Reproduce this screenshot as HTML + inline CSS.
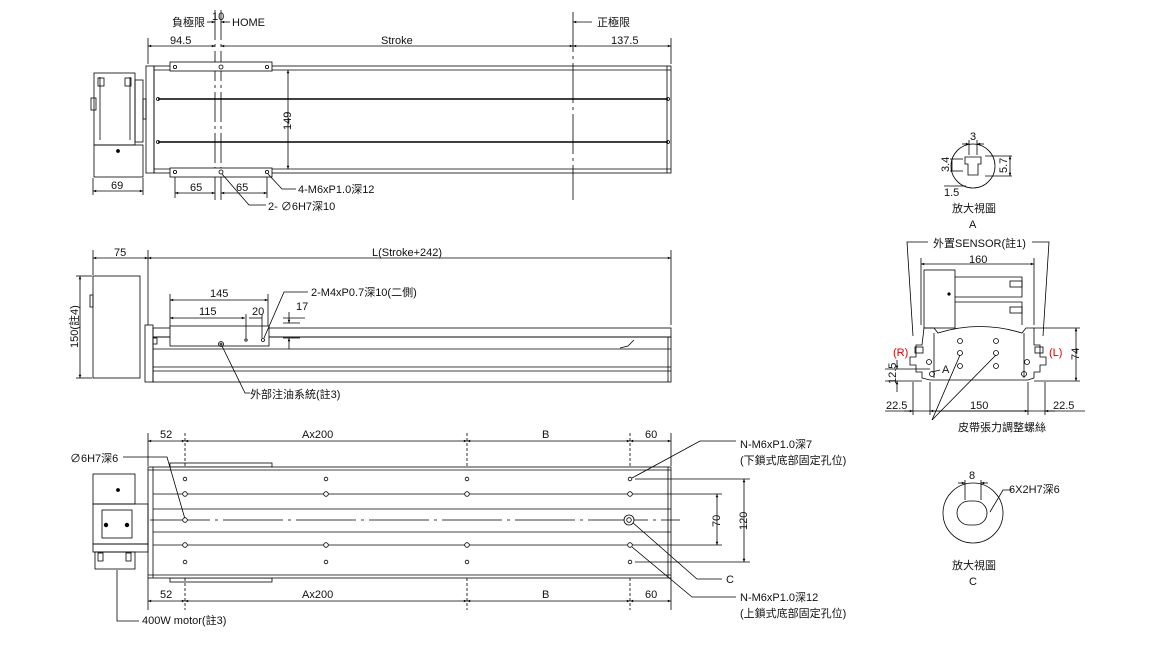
<!DOCTYPE html>
<html><head><meta charset="utf-8"><style>
html,body{margin:0;padding:0;background:#fff}
svg{display:block}
text{font-family:"Liberation Sans","Noto Sans CJK TC",sans-serif;font-size:11px;fill:#111}
</style></head><body>
<svg width="1156" height="645" viewBox="0 0 1156 645" xmlns="http://www.w3.org/2000/svg">
<defs>
<marker id="a" viewBox="0 0 10 10" refX="10" refY="5" markerWidth="6" markerHeight="4" orient="auto-start-reverse"><path d="M0,1 L10,5 L0,9z" fill="#000"/></marker>
</defs>
<g stroke="#000" stroke-width="0.8" fill="none">
<!-- ========== TOP VIEW ========== -->
<line x1="215" y1="10" x2="215" y2="200" stroke-dasharray="30 4 3 4"/>
<line x1="221" y1="10" x2="221" y2="200" stroke-dasharray="30 4 3 4"/>
<line x1="573" y1="12" x2="573" y2="200" stroke-dasharray="40 4 3 4"/>
<line x1="207" y1="22" x2="215" y2="22" marker-end="url(#a)"/>
<line x1="230" y1="22" x2="221" y2="22" marker-end="url(#a)"/>
<line x1="592" y1="22" x2="573" y2="22" marker-end="url(#a)"/>
<line x1="148" y1="38" x2="148" y2="64"/><line x1="671" y1="38" x2="671" y2="64"/>
<line x1="148" y1="46" x2="215" y2="46" marker-start="url(#a)" marker-end="url(#a)"/>
<line x1="221" y1="46" x2="573" y2="46" marker-start="url(#a)" marker-end="url(#a)"/>
<line x1="573" y1="46" x2="671" y2="46" marker-start="url(#a)" marker-end="url(#a)"/>
<!-- motor -->
<rect x="94" y="73" width="41" height="72"/>
<rect x="94" y="145" width="49" height="32"/>
<line x1="100" y1="77" x2="100" y2="140"/><line x1="130" y1="77" x2="130" y2="140"/>
<rect x="98" y="78" width="6" height="8"/><rect x="125" y="78" width="6" height="8"/>
<rect x="91" y="98" width="5" height="12"/>
<rect x="135" y="80" width="8" height="62"/>
<circle cx="118" cy="151" r="1.5" fill="#000"/>
<rect x="143" y="99" width="3" height="20"/>
<!-- body -->
<rect x="146" y="66" width="8" height="107"/>
<rect x="154" y="66" width="517" height="107"/>
<line x1="154" y1="70" x2="671" y2="70"/><line x1="154" y1="169" x2="671" y2="169"/>
<line x1="667" y1="66" x2="667" y2="173"/>
<line x1="158" y1="99" x2="668" y2="99" stroke-width="1.6"/>
<line x1="158" y1="142" x2="668" y2="142" stroke-width="1.6"/>
<circle cx="158" cy="99" r="1.5"/><circle cx="668" cy="99" r="1.5"/>
<circle cx="158" cy="142" r="1.5"/><circle cx="668" cy="142" r="1.5"/>
<rect x="170" y="62" width="102" height="9" fill="#fff"/>
<rect x="170" y="168" width="102" height="9" fill="#fff"/>
<circle cx="175" cy="67" r="1.6"/><circle cx="221" cy="67" r="2"/><circle cx="267" cy="67" r="1.6"/>
<circle cx="175" cy="172" r="1.6"/><circle cx="221" cy="172" r="2"/><circle cx="267" cy="172" r="1.6"/>
<line x1="288" y1="70" x2="288" y2="169" marker-start="url(#a)" marker-end="url(#a)"/>
<line x1="93" y1="178" x2="93" y2="195"/><line x1="143" y1="178" x2="143" y2="195"/>
<line x1="93" y1="191" x2="143" y2="191" marker-start="url(#a)" marker-end="url(#a)"/>
<line x1="175" y1="177" x2="175" y2="198"/><line x1="267" y1="177" x2="267" y2="198"/>
<line x1="175" y1="193" x2="215" y2="193" marker-start="url(#a)" marker-end="url(#a)"/>
<line x1="221" y1="193" x2="267" y2="193" marker-start="url(#a)" marker-end="url(#a)"/>
<polyline points="268,174 282,189 296,189"/>
<polyline points="222,174 249,205 266,205"/>
<!-- ========== SIDE VIEW ========== -->
<line x1="93" y1="250" x2="93" y2="275"/><line x1="148" y1="250" x2="148" y2="325"/><line x1="671" y1="250" x2="671" y2="325"/>
<line x1="93" y1="258" x2="148" y2="258" marker-start="url(#a)" marker-end="url(#a)"/>
<line x1="148" y1="258" x2="671" y2="258" marker-start="url(#a)" marker-end="url(#a)"/>
<line x1="76" y1="276" x2="92" y2="276"/><line x1="76" y1="378" x2="92" y2="378"/>
<line x1="80" y1="276" x2="80" y2="378" marker-start="url(#a)" marker-end="url(#a)"/>
<rect x="93" y="276" width="47" height="102"/>
<rect x="90" y="295" width="3" height="12"/>
<rect x="145" y="325" width="8" height="57"/>
<rect x="153" y="328" width="518" height="9"/>
<rect x="153" y="337" width="518" height="45"/>
<line x1="153" y1="349" x2="671" y2="349"/>
<line x1="153" y1="367" x2="671" y2="367"/><line x1="153" y1="371" x2="671" y2="371"/>
<line x1="668" y1="337" x2="668" y2="382"/>
<rect x="170" y="326" width="99" height="20" fill="#fff"/>
<rect x="153" y="338" width="4" height="6"/>
<polyline points="620,348 628,346 632,342 634,340"/>
<circle cx="246" cy="340" r="1.2"/><circle cx="263" cy="340" r="1.5"/>
<circle cx="221" cy="344" r="2.5"/><circle cx="221" cy="344" r="1"/>
<line x1="170" y1="294" x2="170" y2="326"/><line x1="268" y1="294" x2="268" y2="326"/>
<line x1="170" y1="300" x2="268" y2="300" marker-start="url(#a)" marker-end="url(#a)"/>
<line x1="170" y1="318" x2="245" y2="318" marker-start="url(#a)" marker-end="url(#a)"/>
<line x1="246" y1="314" x2="246" y2="338"/><line x1="262" y1="314" x2="262" y2="338"/>
<line x1="249" y1="318" x2="262" y2="318"/>
<line x1="283" y1="318" x2="305" y2="318"/>
<line x1="283" y1="323" x2="300" y2="323"/><line x1="283" y1="338" x2="300" y2="338"/>
<line x1="289" y1="312" x2="289" y2="323" marker-end="url(#a)"/>
<line x1="289" y1="349" x2="289" y2="338" marker-end="url(#a)"/>
<polyline points="264,338 284,292 308,292"/>
<polyline points="222,346 245,393 250,393"/>
<!-- ========== BOTTOM VIEW ========== -->
<line x1="148" y1="433" x2="148" y2="466"/><line x1="671" y1="433" x2="671" y2="466"/>
<line x1="185" y1="433" x2="185" y2="610" stroke-dasharray="3 2"/>
<line x1="467" y1="433" x2="467" y2="610" stroke-dasharray="3 2"/>
<line x1="630" y1="433" x2="630" y2="610" stroke-dasharray="3 2"/>
<line x1="148" y1="578" x2="148" y2="610"/><line x1="671" y1="578" x2="671" y2="610"/>
<line x1="148" y1="441" x2="185" y2="441" marker-start="url(#a)" marker-end="url(#a)"/>
<line x1="185" y1="441" x2="467" y2="441" marker-start="url(#a)" marker-end="url(#a)"/>
<line x1="467" y1="441" x2="630" y2="441" marker-start="url(#a)" marker-end="url(#a)"/>
<line x1="630" y1="441" x2="671" y2="441" marker-start="url(#a)" marker-end="url(#a)"/>
<line x1="148" y1="601" x2="185" y2="601" marker-start="url(#a)" marker-end="url(#a)"/>
<line x1="185" y1="601" x2="467" y2="601" marker-start="url(#a)" marker-end="url(#a)"/>
<line x1="467" y1="601" x2="630" y2="601" marker-start="url(#a)" marker-end="url(#a)"/>
<line x1="630" y1="601" x2="671" y2="601" marker-start="url(#a)" marker-end="url(#a)"/>
<rect x="170" y="463" width="102" height="4"/><rect x="170" y="578" width="102" height="4"/>
<rect x="148" y="467" width="523" height="111" fill="#fff"/>
<line x1="148" y1="470" x2="671" y2="470"/><line x1="148" y1="575" x2="671" y2="575"/>
<line x1="668" y1="467" x2="668" y2="578"/>
<line x1="153" y1="467" x2="153" y2="578"/>
<line x1="153" y1="494" x2="671" y2="494"/><line x1="153" y1="545" x2="671" y2="545"/>
<line x1="153" y1="509" x2="671" y2="509"/><line x1="153" y1="532" x2="671" y2="532"/>
<line x1="150" y1="520" x2="680" y2="520" stroke-dasharray="60 5 3 5"/>
<!-- motor bottom -->
<rect x="93" y="474" width="42" height="30"/>
<rect x="93" y="504" width="55" height="40"/>
<rect x="102" y="510" width="30" height="28"/>
<rect x="93" y="544" width="55" height="8"/>
<rect x="95" y="552" width="40" height="17"/>
<circle cx="118" cy="490" r="1.5" fill="#000"/>
<circle cx="106" cy="525" r="1.8" fill="#000"/><circle cx="127" cy="525" r="1.8" fill="#000"/>
<rect x="98" y="553" width="5" height="8"/><rect x="126" y="553" width="5" height="8"/>
<line x1="744" y1="479" x2="744" y2="562" marker-start="url(#a)" marker-end="url(#a)"/>
<line x1="717" y1="494" x2="717" y2="545" marker-start="url(#a)" marker-end="url(#a)"/>
<line x1="635" y1="479" x2="750" y2="479"/><line x1="671" y1="494" x2="722" y2="494"/>
<line x1="671" y1="545" x2="722" y2="545"/><line x1="635" y1="562" x2="750" y2="562"/>
<polyline points="632,478 700,441 736,441"/>
<polyline points="632,522 697,579 722,579"/>
<polyline points="632,547 692,597 736,597"/>
<polyline points="123,457 167,457 185,519"/>
<polyline points="117,570 117,621 139,621"/>
<!-- ========== DETAIL A ========== -->
<circle cx="973" cy="166" r="22"/>
<path d="M965,157 h16 v7 h-3 v11 h-10 v-11 h-3z"/>
<line x1="969" y1="140" x2="969" y2="155"/><line x1="977" y1="140" x2="977" y2="155"/>
<line x1="962" y1="144" x2="969" y2="144" marker-end="url(#a)"/><line x1="984" y1="144" x2="977" y2="144" marker-end="url(#a)"/>
<line x1="950" y1="159" x2="963" y2="159"/><line x1="950" y1="171" x2="963" y2="171"/>
<line x1="952" y1="159" x2="952" y2="171"/>
<line x1="985" y1="156" x2="1012" y2="156"/><line x1="985" y1="176" x2="1012" y2="176"/>
<line x1="1010" y1="156" x2="1010" y2="176" marker-start="url(#a)" marker-end="url(#a)"/>
<line x1="944" y1="186" x2="966" y2="186"/>
<!-- ========== END VIEW ========== -->
<polyline points="928,242 907,242 913,336"/>
<polyline points="1032,242 1049,242 1043,336"/>
<line x1="921" y1="258" x2="921" y2="325"/><line x1="1034" y1="258" x2="1034" y2="325"/>
<line x1="921" y1="264" x2="1034" y2="264" marker-start="url(#a)" marker-end="url(#a)"/>
<rect x="924" y="270" width="31" height="58"/>
<polyline points="955,277 1022,277 1022,297 955,297"/>
<polyline points="955,302 1022,302 1022,325"/>
<rect x="1010" y="281" width="12" height="6"/><rect x="1010" y="307" width="12" height="6"/>
<circle cx="949" cy="294" r="1.2" fill="#000"/>
<path d="M924,328 L934,328 L938,333 Q980,320 1022,333 L1026,328 L1034,328 L1034,345 L1040,345 L1040,357 L1046,357 L1046,365 L1040,365 L1040,372 L1034,372 L1034,378 L1028,380 L930,380 L922,378 L922,372 L916,372 L916,365 L910,365 L910,357 L916,357 L916,345 L922,345 Z"/>
<line x1="934" y1="333" x2="934" y2="378"/><line x1="1024" y1="333" x2="1024" y2="378"/>
<rect x="915" y="347" width="8" height="6"/><rect x="1035" y="347" width="8" height="6"/>
<circle cx="960" cy="341" r="2.5"/><circle cx="996" cy="341" r="2.5"/>
<circle cx="960" cy="353" r="2.5"/><circle cx="996" cy="353" r="2.5"/>
<circle cx="960" cy="366" r="2.5"/><circle cx="996" cy="366" r="2.5"/>
<circle cx="929" cy="362" r="2.5"/><circle cx="1027" cy="362" r="2.5"/>
<circle cx="932" cy="374" r="2.5"/><circle cx="1024" cy="374" r="2.5"/>
<line x1="1034" y1="328" x2="1080" y2="328"/><line x1="1034" y1="381" x2="1080" y2="381"/>
<line x1="1076" y1="328" x2="1076" y2="381" marker-start="url(#a)" marker-end="url(#a)"/>
<line x1="885" y1="369" x2="930" y2="369"/><line x1="885" y1="381" x2="922" y2="381"/>
<line x1="897" y1="360" x2="897" y2="369" marker-end="url(#a)"/>
<line x1="897" y1="392" x2="897" y2="381" marker-end="url(#a)"/>
<line x1="913" y1="382" x2="913" y2="415"/><line x1="1045" y1="382" x2="1045" y2="415"/>
<line x1="930" y1="382" x2="930" y2="415"/><line x1="1028" y1="382" x2="1028" y2="415"/>
<line x1="885" y1="411" x2="1085" y2="411"/>
<line x1="904" y1="411" x2="913" y2="411" marker-end="url(#a)"/>
<line x1="930" y1="411" x2="1028" y2="411" marker-start="url(#a)" marker-end="url(#a)"/>
<line x1="1055" y1="411" x2="1045" y2="411" marker-end="url(#a)"/>
<line x1="932" y1="420" x2="960" y2="355"/><line x1="932" y1="420" x2="996" y2="355"/>
<line x1="940" y1="370" x2="932" y2="372"/>
<!-- ========== DETAIL C ========== -->
<circle cx="973" cy="513" r="30"/>
<rect x="957" y="501" width="30" height="24" rx="12"/>
<line x1="965" y1="480" x2="965" y2="500"/><line x1="981" y1="480" x2="981" y2="500"/>
<line x1="958" y1="483" x2="965" y2="483" marker-end="url(#a)"/><line x1="988" y1="483" x2="981" y2="483" marker-end="url(#a)"/>
<polyline points="990,512 1003,490 1012,490"/>
</g>
<!-- holes bottom view -->
<g stroke="#000" stroke-width="0.8" fill="#fff">
<circle cx="185" cy="479" r="1.8"/><circle cx="326" cy="479" r="1.8"/><circle cx="467" cy="479" r="1.8"/><circle cx="630" cy="479" r="1.8"/>
<circle cx="185" cy="494" r="2.3"/><circle cx="326" cy="494" r="2.3"/><circle cx="467" cy="494" r="2.3"/><circle cx="630" cy="494" r="2.3"/>
<circle cx="185" cy="545" r="2.3"/><circle cx="326" cy="545" r="2.3"/><circle cx="467" cy="545" r="2.3"/><circle cx="630" cy="545" r="2.3"/>
<circle cx="185" cy="562" r="1.8"/><circle cx="326" cy="562" r="1.8"/><circle cx="467" cy="562" r="1.8"/><circle cx="630" cy="562" r="1.8"/>
<circle cx="185" cy="520" r="2.3"/>
<circle cx="629" cy="520" r="5"/><circle cx="629" cy="520" r="2.3"/>
</g>
<!-- TEXT -->
<text x="172" y="26">負極限</text><text x="212" y="20" font-size="10">10</text><text x="232" y="26">HOME</text>
<text x="597" y="26">正極限</text>
<text x="170" y="44">94.5</text><text x="381" y="44">Stroke</text><text x="611" y="44">137.5</text>
<text x="0" y="0" transform="translate(291,130) rotate(-90)">149</text>
<text x="111" y="189">69</text><text x="190" y="191">65</text><text x="236" y="191">65</text>
<text x="298" y="193">4-M6xP1.0深12</text>
<text x="268" y="210">2- ∅6H7深10</text>
<text x="114" y="256">75</text><text x="372" y="256">L(Stroke+242)</text>
<text x="0" y="0" transform="translate(78,348) rotate(-90)">150(註4)</text>
<text x="210" y="297">145</text><text x="199" y="315">115</text><text x="252" y="315">20</text><text x="296" y="310">17</text>
<text x="311" y="296">2-M4xP0.7深10(二側)</text>
<text x="250" y="398">外部注油系統(註3)</text>
<text x="160" y="438">52</text><text x="302" y="438">Ax200</text><text x="542" y="438">B</text><text x="645" y="438">60</text>
<text x="160" y="598">52</text><text x="302" y="598">Ax200</text><text x="542" y="598">B</text><text x="645" y="598">60</text>
<text x="740" y="448">N-M6xP1.0深7</text><text x="740" y="464">(下鎖式底部固定孔位)</text>
<text x="70" y="462">∅6H7深6</text>
<text x="0" y="0" transform="translate(720,527) rotate(-90)">70</text>
<text x="0" y="0" transform="translate(747,530) rotate(-90)">120</text>
<text x="726" y="583">C</text>
<text x="740" y="601">N-M6xP1.0深12</text><text x="740" y="617">(上鎖式底部固定孔位)</text>
<text x="142" y="624">400W motor(註3)</text>
<text x="970" y="140" font-size="10">3</text>
<text x="0" y="0" transform="translate(949,172) rotate(-90)" font-size="10">3.4</text>
<text x="0" y="0" transform="translate(1007,173) rotate(-90)" font-size="10">5.7</text>
<text x="944" y="196" font-size="10">1.5</text>
<text x="952" y="212">放大視圖</text><text x="969" y="228">A</text>
<text x="933" y="247">外置SENSOR(註1)</text>
<text x="969" y="263">160</text>
<text x="893" y="356" style="fill:#d00">(R)</text><text x="1049" y="356" style="fill:#d00">(L)</text>
<text x="942" y="373">A</text>
<text x="0" y="0" transform="translate(1079,360) rotate(-90)">74</text>
<text x="0" y="0" transform="translate(896,384) rotate(-90)">12.5</text>
<text x="886" y="409">22.5</text><text x="970" y="409">150</text><text x="1053" y="409">22.5</text>
<text x="958" y="431">皮帶張力調整螺絲</text>
<text x="969" y="479">8</text><text x="1009" y="493">6X2H7深6</text>
<text x="952" y="569">放大視圖</text><text x="969" y="585">C</text>
</svg>
</body></html>
